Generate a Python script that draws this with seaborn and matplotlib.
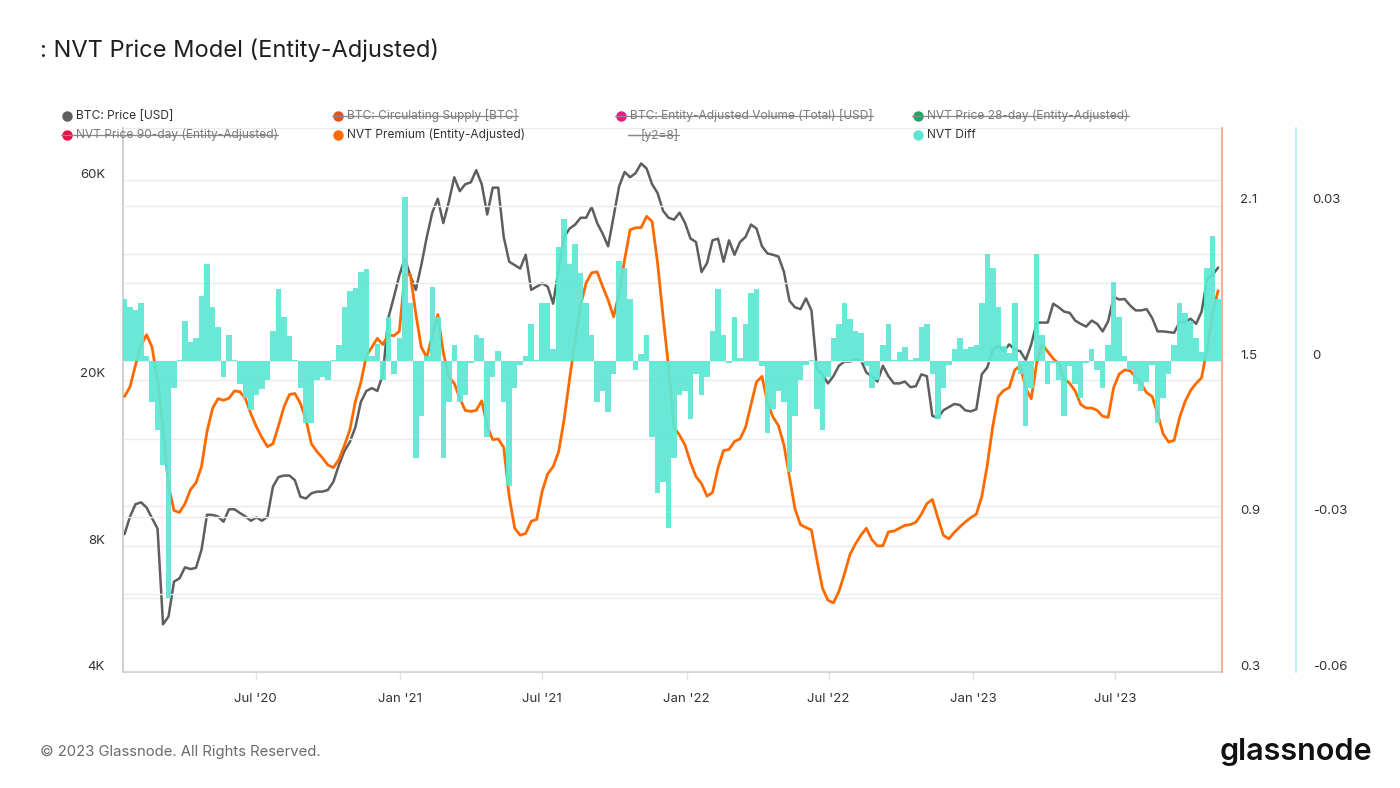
import matplotlib
matplotlib.use("Agg")
import matplotlib.pyplot as plt
import matplotlib.dates as mdates
import matplotlib.transforms as mtransforms
from matplotlib.lines import Line2D
from matplotlib.ticker import FixedLocator, FixedFormatter, NullFormatter
import numpy as np
import pandas as pd
import seaborn as sns

# weekly samples
dates = pd.date_range("2020-01-16", periods=200, freq="7D")

btc_price = [
    8550, 9420, 10080, 10180, 9900, 9330, 8810, 5200, 5430, 6580,
    6700, 7120, 7050, 7100, 7840, 9510, 9500, 9420, 9150, 9800,
    9800, 9600, 9420, 9200, 9370, 9200, 9400, 11100, 11700, 11800,
    11800, 11500, 10500, 10400, 10700, 10800, 10800, 10900, 11400, 12500,
    13500, 14200, 15400, 17700, 18800, 19100, 18800, 20600, 28100, 31500,
    35500, 39000, 35500, 32800, 37600, 43900, 50200, 54200, 47400, 53200,
    61000, 56500, 58700, 59300, 63400, 58700, 49700, 57600, 57600, 43900,
    38300, 37600, 36900, 39800, 32800, 33400, 34000, 33400, 30400, 36900,
    43900, 46000, 47000, 48800, 48800, 51800, 47400, 44700, 41700, 49200,
    58000, 62800, 61000, 62400, 65800, 64000, 58700, 55900, 50700, 48800,
    48300, 50200, 47400, 43500, 42700, 36200, 38000, 43100, 43500, 38300,
    43100, 39800, 42700, 43900, 47000, 46000, 41700, 40100, 39800, 39400,
    36200, 30900, 29800, 29500, 31300, 29300, 21200, 20600, 19600, 20400,
    21600, 22100, 22100, 22300, 22300, 20800, 20400, 19800, 21600, 20400,
    19600, 19600, 19800, 19200, 19300, 20600, 20400, 16400, 16200, 16900,
    17200, 17500, 17400, 16900, 16800, 17000, 20600, 21400, 23600, 24100,
    23400, 24300, 23600, 23400, 22300, 24300, 27400, 27400, 27400, 30400,
    29800, 29100, 28900, 27700, 27200, 26800, 27700, 27200, 26100, 27600,
    31600, 31100, 31200, 30100, 29300, 29300, 29500, 28100, 26100, 26100,
    26000, 25900, 27500, 27500, 28000, 27200, 29100, 34800, 35600, 37100,
]

nvt_premium = [
    1.364, 1.401, 1.486, 1.561, 1.602, 1.554, 1.425, 1.235, 1.018, 0.923,
    0.916, 0.950, 1.004, 1.031, 1.093, 1.228, 1.317, 1.355, 1.349, 1.357,
    1.385, 1.382, 1.355, 1.296, 1.246, 1.205, 1.170, 1.181, 1.249, 1.323,
    1.371, 1.375, 1.337, 1.276, 1.181, 1.151, 1.127, 1.099, 1.089, 1.120,
    1.174, 1.235, 1.344, 1.418, 1.520, 1.554, 1.588, 1.564, 1.602, 1.598,
    1.615, 1.833, 1.835, 1.683, 1.554, 1.514, 1.600, 1.680, 1.534, 1.439,
    1.414, 1.357, 1.310, 1.306, 1.310, 1.347, 1.249, 1.197, 1.200, 1.167,
    0.977, 0.855, 0.828, 0.835, 0.882, 0.889, 0.998, 1.065, 1.093, 1.151,
    1.276, 1.434, 1.581, 1.717, 1.802, 1.841, 1.845, 1.788, 1.736, 1.671,
    1.763, 1.891, 2.007, 2.015, 2.015, 2.059, 2.039, 1.879, 1.671, 1.478,
    1.245, 1.214, 1.176, 1.108, 1.054, 1.027, 0.979, 0.993, 1.088, 1.155,
    1.159, 1.190, 1.200, 1.244, 1.332, 1.420, 1.441, 1.339, 1.284, 1.251,
    1.176, 1.054, 0.930, 0.869, 0.858, 0.848, 0.733, 0.624, 0.577, 0.567,
    0.611, 0.678, 0.753, 0.794, 0.828, 0.855, 0.811, 0.787, 0.787, 0.841,
    0.844, 0.855, 0.866, 0.869, 0.878, 0.909, 0.950, 0.966, 0.896, 0.828,
    0.814, 0.839, 0.860, 0.879, 0.896, 0.909, 0.977, 1.099, 1.249, 1.364,
    1.387, 1.398, 1.466, 1.482, 1.395, 1.355, 1.493, 1.564, 1.537, 1.510,
    1.490, 1.432, 1.414, 1.385, 1.333, 1.319, 1.319, 1.310, 1.287, 1.283,
    1.398, 1.450, 1.466, 1.463, 1.439, 1.414, 1.378, 1.364, 1.296, 1.219,
    1.188, 1.194, 1.283, 1.344, 1.387, 1.414, 1.436, 1.548, 1.683, 1.772,
]

nvt_diff = [
    0.0119, 0.0105, 0.0098, 0.0112, 0.0010, -0.0078, -0.0132, -0.0200, -0.0458, -0.0051,
    0.0003, 0.0078, 0.0037, 0.0044, 0.0126, 0.0187, 0.0105, 0.0065, -0.0031, 0.0051,
    0.0003, -0.0044, -0.0071, -0.0095, -0.0065, -0.0054, -0.0037, 0.0058, 0.0139, 0.0085,
    0.0048, 0.0003, -0.0051, -0.0119, -0.0119, -0.0037, -0.0031, -0.0037, 0.0003, 0.0031,
    0.0105, 0.0136, 0.0141, 0.0173, 0.0177, 0.0010, 0.0034, -0.0037, 0.0085, -0.0024,
    0.0044, 0.0316, 0.0112, -0.0187, -0.0105, 0.0010, 0.0143, 0.0085, -0.0187, -0.0078,
    0.0031, -0.0078, -0.0065, -0.0003, 0.0051, 0.0044, -0.0146, -0.0031, 0.0020, -0.0078,
    -0.0241, -0.0051, -0.0007, 0.0010, 0.0071, 0.0003, 0.0112, 0.0112, 0.0024, 0.0221,
    0.0275, 0.0187, 0.0227, 0.0170, 0.0112, 0.0051, -0.0078, -0.0058, -0.0098, -0.0024,
    0.0194, 0.0180, 0.0119, -0.0017, 0.0014, 0.0051, -0.0146, -0.0255, -0.0234, -0.0323,
    -0.0187, -0.0065, -0.0058, -0.0112, -0.0024, -0.0065, -0.0031, 0.0058, 0.0139, 0.0051,
    -0.0003, 0.0085, 0.0007, 0.0071, 0.0132, 0.0139, -0.0010, -0.0139, -0.0092, -0.0058,
    -0.0078, -0.0214, -0.0105, -0.0037, -0.0007, 0.0003, -0.0092, -0.0132, -0.0031, 0.0044,
    0.0071, 0.0112, 0.0081, 0.0058, 0.0054, -0.0010, -0.0051, -0.0037, 0.0031, 0.0071,
    0.0003, 0.0017, 0.0027, 0.0003, 0.0007, 0.0065, 0.0071, -0.0024, -0.0112, -0.0051,
    -0.0007, 0.0024, 0.0044, 0.0024, 0.0027, 0.0031, 0.0112, 0.0207, 0.0180, 0.0105,
    0.0030, 0.0015, 0.0112, -0.0024, -0.0126, -0.0051, 0.0207, 0.0051, -0.0044, -0.0003,
    -0.0037, -0.0105, -0.0010, -0.0044, -0.0071, -0.0003, 0.0024, -0.0017, -0.0051, 0.0031,
    0.0153, 0.0085, 0.0010, -0.0017, -0.0044, -0.0058, -0.0041, -0.0007, -0.0119, -0.0071,
    -0.0024, 0.0031, 0.0112, 0.0092, 0.0078, 0.0044, 0.0017, 0.0180, 0.0241, 0.0119,
]

x_tick_dates = ["2020-07-01", "2021-01-01", "2021-07-01", "2022-01-01",
                "2022-07-01", "2023-01-01", "2023-07-01"]
x_tick_labels = ["Jul '20", "Jan '21", "Jul '21", "Jan '22", "Jul '22", "Jan '23", "Jul '23"]

price_ticks = [4000, 8000, 20000, 60000]
price_tick_labels = ["4K", "8K", "20K", "60K"]
price_grid = [6000, 10000, 40000]
premium_ticks = [0.3, 0.9, 1.5, 2.1]
premium_grid = [0.6, 1.2, 1.8, 2.4]
diff_ticks = [-0.06, -0.03, 0, 0.03]
diff_tick_labels = ["-0.06", "-0.03", "0", "0.03"]

legend_labels = ["BTC: Price [USD]", "BTC: Circulating Supply [BTC]",
                 "BTC: Entity-Adjusted Volume (Total) [USD]", "NVT Price 28-day (Entity-Adjusted)",
                 "NVT Price 90-day (Entity-Adjusted)", "NVT Premium (Entity-Adjusted)",
                 "[y2=8]", "NVT Diff"]
legend_colors = ["#606060", "#e8501e", "#ec1a7d", "#1ea866",
                 "#ea1045", "#ff6a00", "#9a9a9a", "#5ee6d4"]
legend_active = [True, False, False, False, False, True, False, True]

price_color = "#5e5e5e"
premium_color = "#ff6a00"
diff_color = "#5ee6d4"
grid_color = "#ebebeb"

sns.set_theme(style="white")
plt.rcParams["font.family"] = ["Inter", "DejaVu Sans"]

W, H = 1400, 788
fig = plt.figure(figsize=(W / 100, H / 100), dpi=100)
fig.patch.set_facecolor("white")
ax = fig.add_axes([123 / W, 116 / H, 1099 / W, 544 / H])
ax2 = ax.twinx()
ax3 = ax.twinx()

df = pd.DataFrame({
    "x": mdates.date2num(dates),
    "price": btc_price,
    "premium": nvt_premium,
    "diff": nvt_diff,
})

sns.lineplot(data=df, x="x", y="price", ax=ax, color=price_color, linewidth=1.8)
sns.lineplot(data=df, x="x", y="premium", ax=ax2, color=premium_color, linewidth=2.0)
sns.barplot(data=df, x="x", y="diff", ax=ax3, native_scale=True, orient="x", width=1,
            color=diff_color, saturation=1, errorbar=None, edgecolor="none",
            linewidth=0, alpha=0.93)

for a in (ax, ax2, ax3):
    a.set_xlabel("")
    a.set_ylabel("")

# left axis: price, log scale
ax.set_yscale("log")
ax.set_ylim(4000, 80000)
ax.yaxis.set_major_locator(FixedLocator(price_ticks))
ax.yaxis.set_major_formatter(FixedFormatter(price_tick_labels))
ax.yaxis.set_minor_locator(FixedLocator(price_grid))
ax.yaxis.set_minor_formatter(NullFormatter())
ax.yaxis.grid(True, which="both", color=grid_color, linewidth=1)
ax.xaxis.grid(False)
ax.set_axisbelow(True)

# right axis: premium
ax2.set_ylim(0.3, 2.4)
ax2.yaxis.set_major_locator(FixedLocator(premium_ticks))
ax2.yaxis.set_major_formatter(FixedFormatter([str(v) for v in premium_ticks]))
ax2.yaxis.set_minor_locator(FixedLocator(premium_grid))
ax2.yaxis.set_minor_formatter(NullFormatter())
ax2.yaxis.grid(True, which="both", color=grid_color, linewidth=1)
ax2.set_axisbelow(True)

# second right axis: diff
ax3.set_ylim(-0.06, 0.045)
ax3.yaxis.set_major_locator(FixedLocator(diff_ticks))
ax3.yaxis.set_major_formatter(FixedFormatter(diff_tick_labels))
ax3.grid(False)
ax3.spines["right"].set_position(("outward", 74 * 0.72))

# x axis
ax.set_xlim(mdates.date2num(pd.Timestamp("2020-01-14")), mdates.date2num(pd.Timestamp("2023-11-14")))
ax.set_xticks(mdates.date2num(pd.to_datetime(x_tick_dates)))
ax.set_xticklabels(x_tick_labels)
ax2.xaxis.set_visible(False)
ax3.xaxis.set_visible(False)

for a in (ax, ax2, ax3):
    for s in a.spines.values():
        s.set_visible(False)
ax.spines["left"].set_visible(True)
ax.spines["left"].set_color("#c8c8c8")
ax.spines["bottom"].set_visible(True)
ax.spines["bottom"].set_color("#d0d0d0")
ax2.spines["right"].set_visible(True)
ax2.spines["right"].set_color("#f7a58c")
ax3.spines["right"].set_visible(True)
ax3.spines["right"].set_color("#b4efe8")

ax.tick_params(axis="x", bottom=True, length=6, width=1, color="#e2e2e2", pad=9,
               labelsize=9.5, labelcolor="#333333")
ax.tick_params(axis="y", which="both", left=False, length=0, pad=13,
               labelsize=9.5, labelcolor="#333333")
ax2.tick_params(axis="y", which="both", right=False, length=0, pad=13,
                labelsize=9.5, labelcolor="#333333")
ax3.tick_params(axis="y", which="both", right=False, length=0, pad=12,
                labelsize=9.5, labelcolor="#333333")

# y labels sit a little above their grid lines
lift = mtransforms.ScaledTranslation(0, 7 / 100, fig.dpi_scale_trans)
for a in (ax, ax2, ax3):
    for t in a.yaxis.get_major_ticks():
        t.label1.set_transform(t.label1.get_transform() + lift)
        t.label2.set_transform(t.label2.get_transform() + lift)

# title and footer
fig.text(40 / W, 1 - 50 / H, ": NVT Price Model (Entity-Adjusted)", fontsize=17,
         color="#1f1f1f", va="center", ha="left")
fig.text(40 / W, 1 - 752 / H, "\u00a9 2023 Glassnode. All Rights Reserved.", fontsize=10.7,
         color="#6b6b6b", va="center", ha="left")
fig.text(1372 / W, 1 - 752 / H, "glassnode", fontsize=22, fontweight="semibold",
         color="#111111", va="center", ha="right")

# legend, drawn by hand (hidden series are struck through)
col_x = [67, 338, 621, 918]
row_y = [116, 135]
texts = []
for k, (lab, col, on) in enumerate(zip(legend_labels, legend_colors, legend_active)):
    mx = col_x[k % 4]
    my = row_y[k // 4]
    fy = 1 - my / H
    if lab.startswith("[y2"):
        fig.add_artist(Line2D([(mx + 7) / W, (mx + 19) / W], [fy, fy], color=col,
                              linewidth=1, transform=fig.transFigure))
        tx = mx + 20
    else:
        fig.add_artist(Line2D([mx / W], [fy], marker="o", markersize=6.5, color=col,
                              linestyle="none", transform=fig.transFigure))
        tx = mx + 9
    t = fig.text(tx / W, fy, lab, fontsize=8.6, va="center", ha="left",
                 color="#333333" if on else "#7a7a7a")
    texts.append((t, mx, fy, on))

fig.canvas.draw()
renderer = fig.canvas.get_renderer()
for t, mx, fy, on in texts:
    if on:
        continue
    bb = t.get_window_extent(renderer=renderer)
    x0 = mx + 7 if t.get_text().startswith("[y2") else mx - 6
    fig.add_artist(Line2D([x0 / W, bb.x1 / W], [fy, fy], color="#8a8a8a",
                          linewidth=0.9, transform=fig.transFigure))

fig.savefig("out.png", dpi=100)
